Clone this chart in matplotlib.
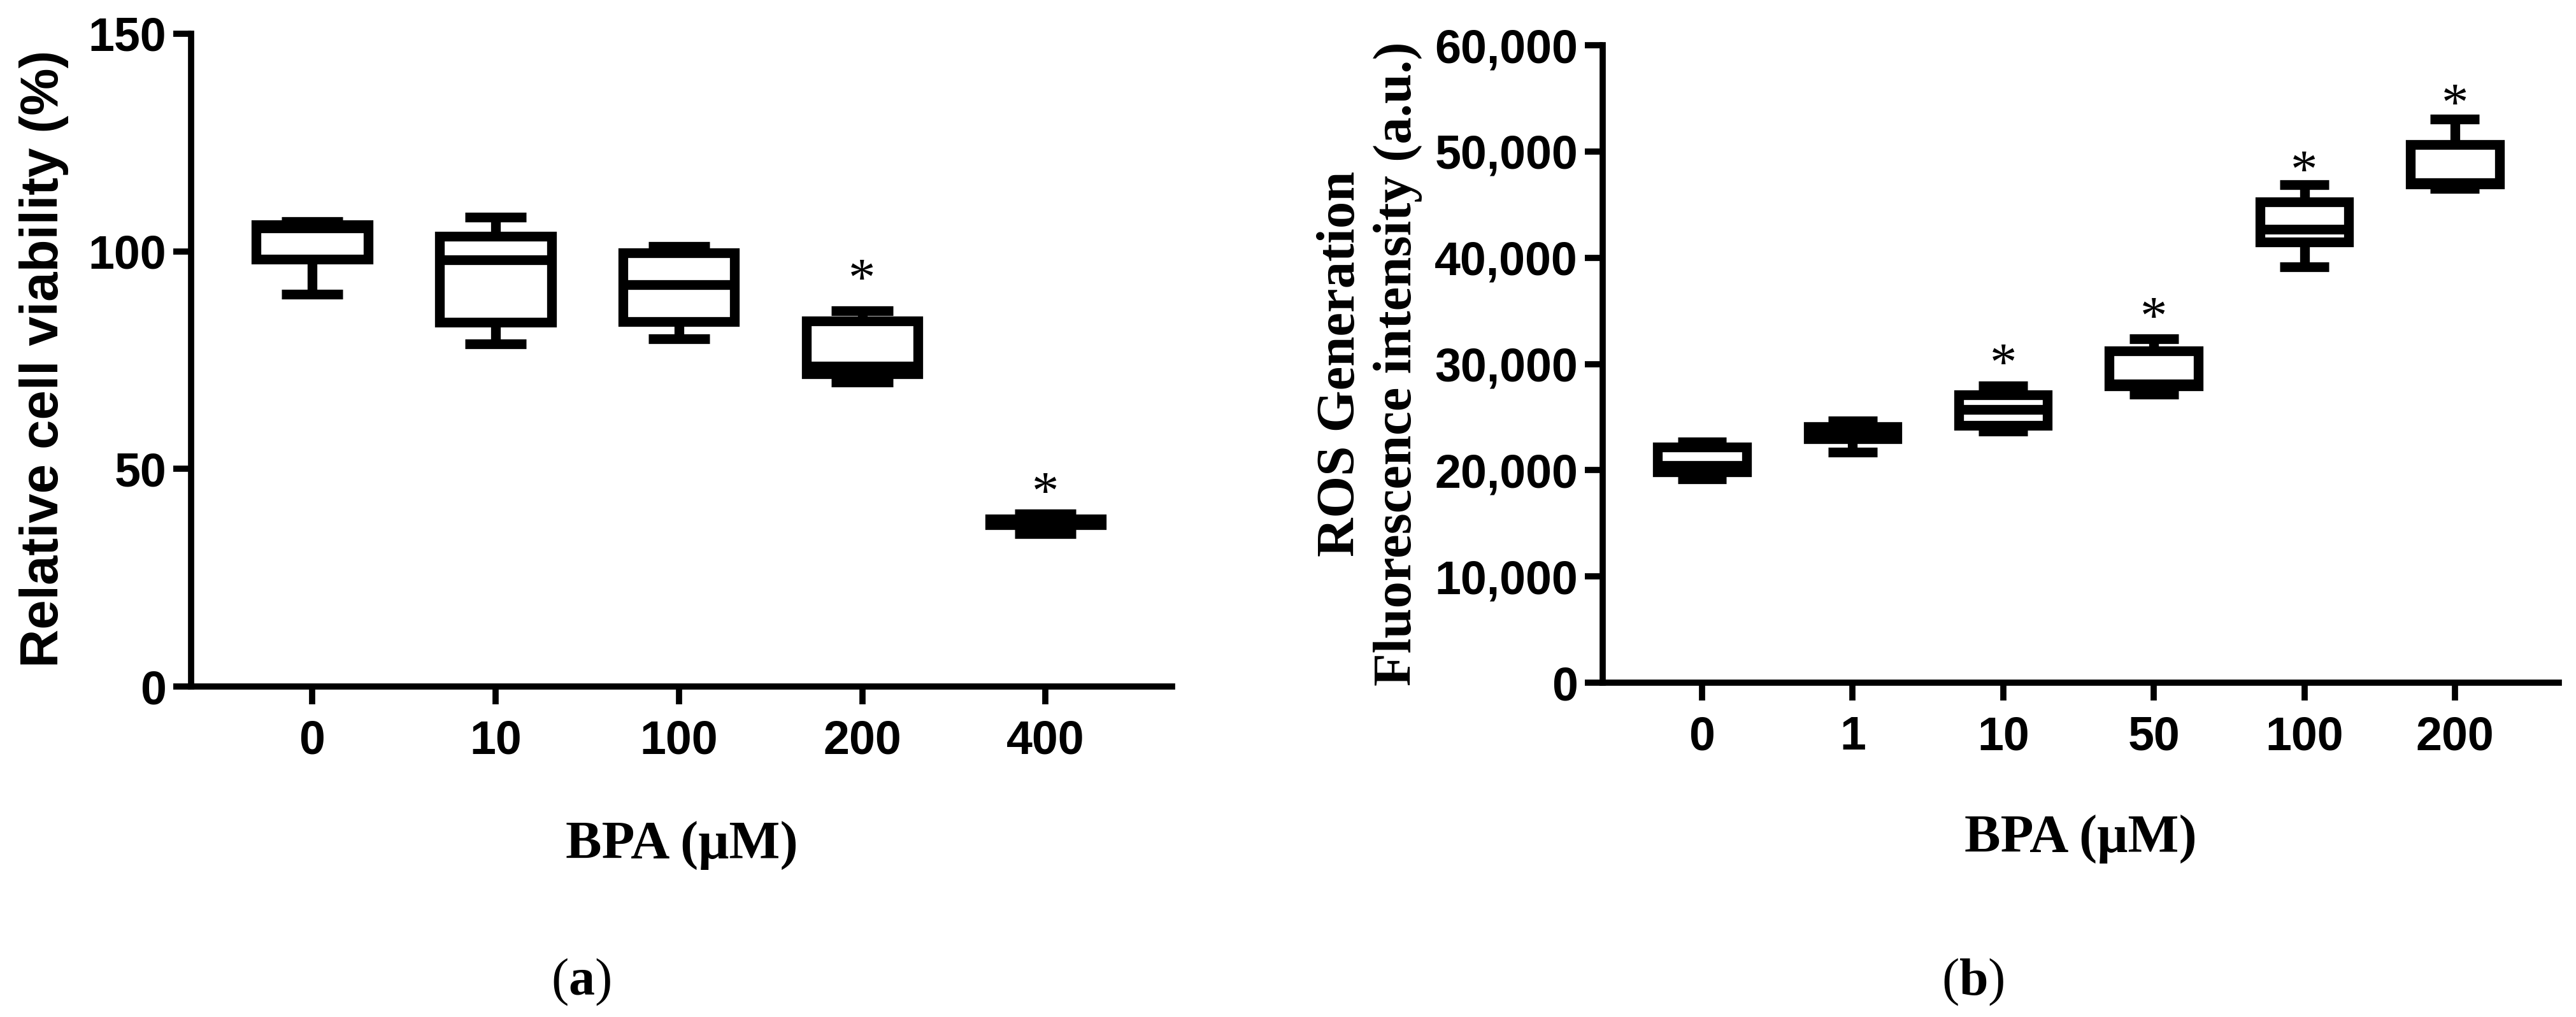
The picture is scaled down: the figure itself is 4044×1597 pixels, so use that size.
import matplotlib
matplotlib.use("Agg")
from matplotlib import pyplot as plt

W, H, DPI = 4044, 1597, 100

# (a) relative cell viability (%), box statistics per BPA dose
doses_a = ["0", "10", "100", "200", "400"]
via_min = [90.2, 78.8, 79.9, 70.0, 35.1]
via_q1 = [98.2, 83.7, 83.9, 71.9, 37.2]
via_med = [105.3, 98.0, 92.3, 73.6, 37.9]
via_q3 = [106.1, 103.5, 99.6, 84.0, 38.5]
via_max = [106.8, 107.8, 101.1, 86.4, 39.6]
star_a = [None, None, None, 96.0, 47.0]
yticks_a = [0, 50, 100, 150]
ytick_labels_a = ["0", "50", "100", "150"]

# (b) ROS fluorescence intensity (a.u.)
doses_b = ["0", "1", "10", "50", "100", "200"]
ros_min = [19160, 21710, 23680, 27130, 39150, 46500]
ros_q1 = [19820, 22980, 24220, 27950, 41460, 46950]
ros_med = [20440, 23550, 25730, 28100, 42660, 47050]
ros_q3 = [22190, 24090, 27070, 31210, 45240, 50660]
ros_max = [22640, 24620, 27910, 32350, 46880, 53060]
star_b = [None, None, 31000, 35400, 49200, 55450]
yticks_b = [0, 10000, 20000, 30000, 40000, 50000, 60000]
ytick_labels_b = ["0", "10,000", "20,000", "30,000", "40,000", "50,000", "60,000"]

SANS = "Liberation Sans"
SERIF = "Liberation Serif"
plt.rcParams["mathtext.fontset"] = "custom"
plt.rcParams["mathtext.rm"] = SERIF
plt.rcParams["mathtext.bf"] = SERIF + ":bold"

LW = 11        # box line width (pt)
SPINE_LW = 7
TICK_FS = 53
LABEL_FS = 61


def rect(left, top, right, bottom):
    """Pixel box -> figure-fraction rect."""
    return [left / W, 1 - bottom / H, (right - left) / W, (bottom - top) / H]


def draw_panel(ax, labels, mins, q1s, meds, q3s, maxs, width, capw,
               yticks, yticklabels, ymax, stars):
    stats = [dict(whislo=a, q1=b, med=c, q3=d, whishi=e, fliers=[])
             for a, b, c, d, e in zip(mins, q1s, meds, q3s, maxs)]
    n = len(labels)
    line = dict(color="black", linewidth=LW, solid_capstyle="butt")
    ax.bxp(stats, positions=list(range(n)), widths=width, capwidths=capw,
           patch_artist=True, showfliers=False,
           boxprops=dict(facecolor="white", edgecolor="black",
                         linewidth=LW, joinstyle="miter"),
           whiskerprops=line, capprops=line, medianprops=line)
    ax.set_xlim(-0.66, n - 1 + 0.69)
    ax.set_ylim(0, ymax)
    ax.set_xticks(range(n))
    ax.set_xticklabels(labels)
    ax.set_yticks(yticks)
    ax.set_yticklabels(yticklabels)
    for side in ("top", "right"):
        ax.spines[side].set_visible(False)
    for side in ("left", "bottom"):
        ax.spines[side].set_linewidth(SPINE_LW)
    ax.tick_params(axis="both", direction="out", length=20, width=SPINE_LW,
                   labelsize=TICK_FS)
    ax.tick_params(axis="x", pad=17)
    ax.tick_params(axis="y", pad=8)
    for lab in ax.get_xticklabels() + ax.get_yticklabels():
        lab.set_fontfamily(SANS)
        lab.set_fontweight("bold")
    for i, s in enumerate(stars):
        if s is None:
            continue
        ax.annotate("*", xy=(i, s), xytext=(0, -0.5 * LABEL_FS),
                    textcoords="offset points", ha="center", va="baseline",
                    fontsize=LABEL_FS, family=SERIF)


fig = plt.figure(figsize=(W / DPI, H / DPI), dpi=DPI)

ax_a = fig.add_axes(rect(300, 53, 1840, 1078))
draw_panel(ax_a, doses_a, via_min, via_q1, via_med, via_q3, via_max,
           0.61, 0.334, yticks_a, ytick_labels_a, 150, star_a)

ax_b = fig.add_axes(rect(2516, 71, 4017, 1072))
draw_panel(ax_b, doses_b, ros_min, ros_q1, ros_med, ros_q3, ros_max,
           0.59, 0.325, yticks_b, ytick_labels_b, 60000, star_b)

# axis titles
fig.text(69 / W, 1 - 563 / H, "Relative cell viability (%)", rotation=90,
         ha="center", va="center", family=SANS, weight="bold", fontsize=60)
fig.text(2150 / W, 1 - 571 / H,
         "ROS Generation\nFluorescence intensity (a.u.)", rotation=90,
         ha="center", va="center", multialignment="center",
         family=SERIF, weight="bold", fontsize=LABEL_FS, linespacing=1.2)
fig.text(1070 / W, 1 - 1348 / H, "BPA (\u03bcM)", ha="center", va="baseline",
         family=SERIF, weight="bold", fontsize=LABEL_FS)
fig.text(3266 / W, 1 - 1338 / H, "BPA (\u03bcM)", ha="center", va="baseline",
         family=SERIF, weight="bold", fontsize=LABEL_FS)

# panel captions
fig.text(912 / W, 1 - 1562 / H, r"($\mathbf{a}$)", ha="center", va="baseline",
         family=SERIF, fontsize=59)
fig.text(3097 / W, 1 - 1562 / H, r"($\mathbf{b}$)", ha="center", va="baseline",
         family=SERIF, fontsize=59)

fig.savefig("out.png", dpi=DPI, facecolor="white")
